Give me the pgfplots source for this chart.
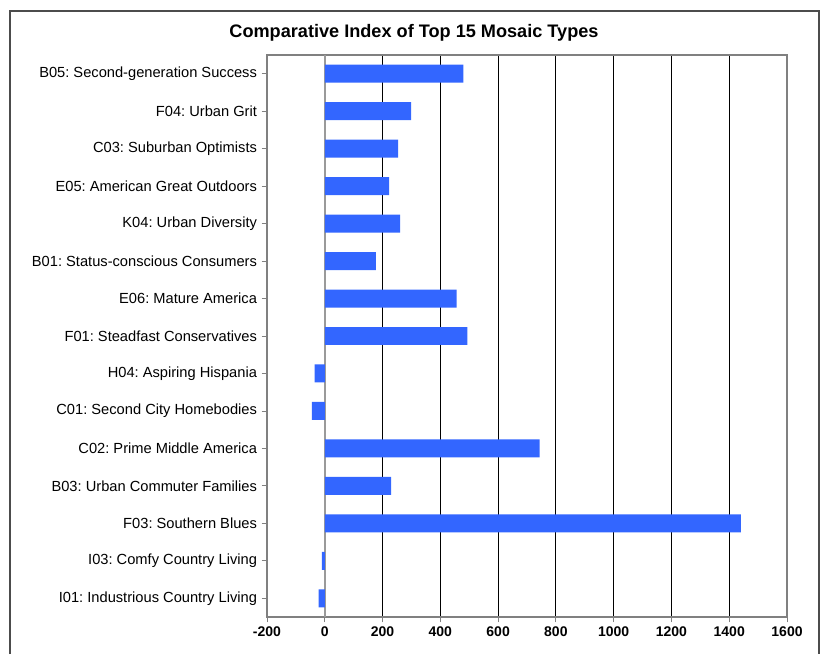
\documentclass[border=0pt]{standalone}
\usepackage{pgfplots}
\pgfplotsset{compat=1.18}
\usepackage{fontspec}
\setmainfont{Liberation Sans}
\frenchspacing
\definecolor{barblue}{HTML}{3366FF}
\definecolor{axgray}{HTML}{808080}

\begin{document}
\begin{tikzpicture}
\begin{scope}[x=0.75pt,y=0.75pt]
\useasboundingbox (0,0) rectangle (824,654);
% outer chart frame (bottom edge falls outside the picture)
\draw[color=black!70, line width=0.8pt] (10,0) -- (10,643) -- (819,643) -- (819,0);
\node[font=\bfseries\fontsize{13.6}{16}\selectfont] at (414,621) {Comparative Index of Top 15 Mosaic Types};
\end{scope}
\begin{axis}[
    at={(200.25pt,27.75pt)}, anchor=south west,
    scale only axis, width=390pt, height=421.5pt,
    xbar, bar width=0.48,
    xmin=-200, xmax=1600, ymin=0.5, ymax=15.5,
    xtick={-200,0,...,1600},
    ytick={1,...,15},
    yticklabels={I01: Industrious Country Living, I03: Comfy Country Living, F03: Southern Blues,
        B03: Urban Commuter Families, C02: Prime Middle America, C01: Second City Homebodies,
        H04: Aspiring Hispania, F01: Steadfast Conservatives, E06: Mature America,
        B01: Status-conscious Consumers, K04: Urban Diversity, E05: American Great Outdoors,
        C03: Suburban Optimists, F04: Urban Grit, B05: Second-generation Success},
    xticklabel style={font=\bfseries\fontsize{10.5}{12}\selectfont, /pgf/number format/assume math mode=true},
    yticklabel style={font=\fontsize{11}{13}\selectfont},
    scaled x ticks=false,
    x tick label style={/pgf/number format/.cd, set thousands separator={}},
    xtick pos=bottom, ytick pos=left,
    tick align=outside, major tick length=4pt,
    tick style={axgray, line width=0.6pt},
    axis line style={axgray, line width=1.2pt},
    xmajorgrids, major grid style={black, line width=0.6pt},
]
\draw[axgray!80, line width=1.2pt] (axis cs:0,0.5) -- (axis cs:0,15.5);
\addplot[fill=barblue, draw=none] coordinates {
    (-21,1) (-10,2) (1440,3) (230,4) (744,5) (-45,6) (-35,7) (494,8)
    (456,9) (177,10) (261,11) (223,12) (254,13) (299,14) (480,15)};
\end{axis}
\end{tikzpicture}
\end{document}
